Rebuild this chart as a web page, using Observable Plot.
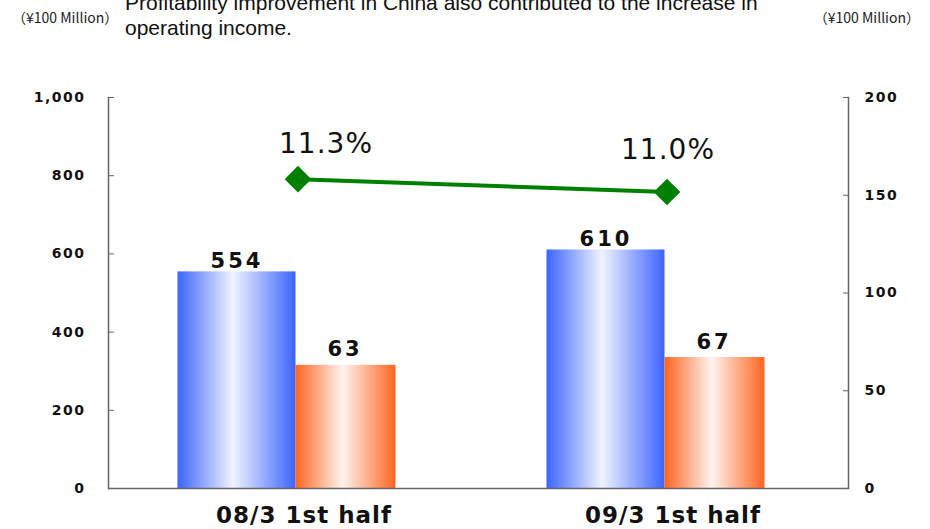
<!DOCTYPE html>
<html>
<head>
<meta charset="utf-8">
<script src="https://cdn.jsdelivr.net/npm/d3@7"></script>
<script src="https://cdn.jsdelivr.net/npm/@observablehq/plot@0.6"></script>
<style>
  html, body { margin: 0; padding: 0; background: #fff; }
  #wrap { position: relative; width: 930px; height: 529px; overflow: hidden; }
  .unit { position: absolute; top: 10px; font-family: "Noto Sans CJK JP", "Liberation Sans", sans-serif; font-size: 14px; line-height: 14px; color: #222; white-space: nowrap; }
  #headline { position: absolute; left: 125px; top: -10px; width: 700px; font-family: "Liberation Sans", Arial, sans-serif; font-size: 21px; line-height: 25px; color: #111; }
  #chart { position: absolute; left: 0; top: 0; }
</style>
</head>
<body>
<div id="wrap">
  <div id="chart"></div>
  <div class="unit" style="left:12px">（¥100 Million）</div>
  <div class="unit" style="right:10px">（¥100 Million）</div>
  <div id="headline">Profitability improvement in China also contributed to the increase in operating income.</div>
</div>
<script>
// ---- data ----
const categories = ["08/3 1st half", "09/3 1st half"];
const netSales = [554, 610];           // left axis (¥100 Million)
const operatingIncome = [63, 67];      // right axis (¥100 Million)
const operatingMargin = [11.3, 11.0];  // % (hidden axis)
const leftTicks = [0, 200, 400, 600, 800, 1000];
const rightTicks = [0, 50, 100, 150, 200];
const marginAxis = [4.1, 13.2];        // hidden secondary axis for margin line

const leftMax = 1000, rightMax = 200;
const ratio = leftMax / rightMax;

const sales = categories.map((c, i) => ({cat: c, value: netSales[i]}));
const income = categories.map((c, i) => ({cat: c, value: operatingIncome[i]}));
const margins = categories.map((c, i) => ({cat: c, value: operatingMargin[i]}));
const marginToY = v => (v - marginAxis[0]) / (marginAxis[1] - marginAxis[0]) * leftMax;

const font = "DejaVu Sans, Verdana, sans-serif";

const chart = Plot.plot({
  width: 930,
  height: 529,
  marginLeft: 108,
  marginRight: 82,
  marginTop: 97,
  marginBottom: 41,
  style: {fontFamily: font, color: "#111", background: "transparent"},
  x: {type: "band", domain: categories, range: [112.5, 850.5], padding: 0, label: null},
  y: {domain: [0, leftMax], label: null},
  marks: [
    Plot.barY(sales, {x: "cat", y: "value", fill: "url(#gradBlue)", insetLeft: 64.5, insetRight: 186.5}),
    Plot.barY(income, {x: "cat", y: d => d.value * ratio, fill: "url(#gradOrange)", insetLeft: 182.5, insetRight: 86.5}),
    Plot.ruleY([0], {stroke: "#666", strokeWidth: 1.5}),
    Plot.frame({anchor: "left", stroke: "#666", strokeWidth: 1.5}),
    Plot.frame({anchor: "right", stroke: "#666", strokeWidth: 1.5}),
    Plot.axisY(leftTicks, {anchor: "left", label: null, tickSize: -6, tickPadding: 29, tickFormat: d3.format(","), fontSize: 14, fontWeight: "bold", stroke: "#666"}),
    Plot.axisY(rightTicks.map(v => v * ratio), {anchor: "right", label: null, tickSize: -6, tickPadding: 22, tickFormat: d => d3.format(",")(d / ratio), fontSize: 14, fontWeight: "bold", stroke: "#666"}),
    Plot.axisX({label: null, tickSize: 0, tickPadding: 18, fontSize: 23, fontWeight: "bold", dx: 6}),
    Plot.line(margins, {x: "cat", y: d => marginToY(d.value), stroke: "#008000", strokeWidth: 4}),
    Plot.dot(margins, {x: "cat", y: d => marginToY(d.value), symbol: "diamond2", r: 12, fill: "#008000", stroke: "none"}),
    Plot.text(sales, {x: "cat", y: "value", text: d => d3.format(",")(d.value), dx: -61, dy: -4, lineAnchor: "bottom", fontSize: 21, fontWeight: "bold", fill: "#111"}),
    Plot.text(income, {x: "cat", y: d => d.value * ratio, text: d => String(d.value), dx: 47, dy: -9, lineAnchor: "bottom", fontSize: 21, fontWeight: "bold", fill: "#111"}),
    Plot.text(margins, {filter: (d, i) => i === 0, x: "cat", y: d => marginToY(d.value), text: d => d.value.toFixed(1) + "%", dx: 28, dy: -26, lineAnchor: "bottom", fontSize: 28, fill: "#111"}),
    Plot.text(margins, {filter: (d, i) => i === 1, x: "cat", y: d => marginToY(d.value), text: d => d.value.toFixed(1) + "%", dx: 1, dy: -33, lineAnchor: "bottom", fontSize: 28, fill: "#111"})
  ]
});

// gradient definitions for the bar fills
const svg = d3.select(chart);
const defs = svg.insert("defs", ":first-child");
function grad(id, edge, mid) {
  const g = defs.append("linearGradient").attr("id", id).attr("x1", 0).attr("x2", 1).attr("y1", 0).attr("y2", 0);
  g.append("stop").attr("offset", "0").attr("stop-color", edge);
  g.append("stop").attr("offset", "0.47").attr("stop-color", mid);
  g.append("stop").attr("offset", "1").attr("stop-color", edge);
}
grad("gradBlue", "#3c64ff", "#f0f3ff");
grad("gradOrange", "#ff6420", "#fff4ef");

// letter spacing tweaks to mimic the original's wider bold face
svg.selectAll('g[aria-label="y-axis tick label"]').attr("letter-spacing", "1.5");
svg.selectAll('g[aria-label="x-axis tick label"]').attr("letter-spacing", "1");
const textGroups = svg.selectAll('g[aria-label="text"]').nodes();
textGroups.forEach((g, i) => d3.select(g).attr("letter-spacing", i < 2 ? "3" : "1"));

document.getElementById("chart").appendChild(chart);
</script>
</body>
</html>
